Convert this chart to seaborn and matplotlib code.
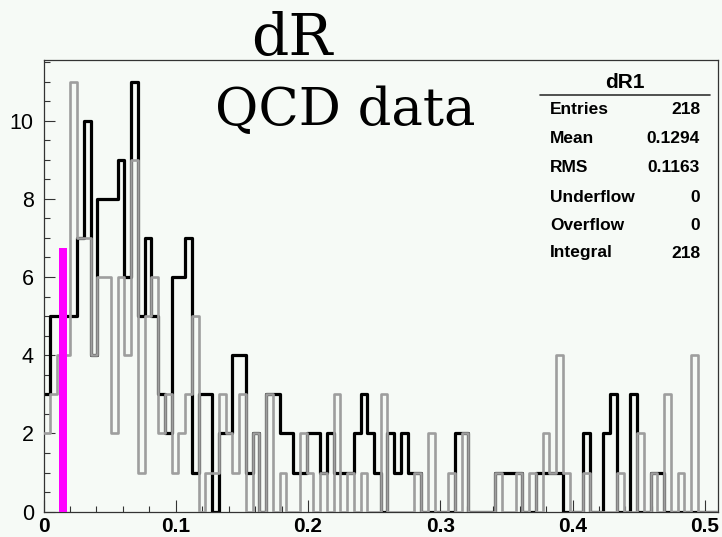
import matplotlib
matplotlib.use("Agg")
import matplotlib.pyplot as plt
from matplotlib.lines import Line2D
from matplotlib.ticker import FixedLocator, MultipleLocator
import numpy as np
import pandas as pd
import seaborn as sns

# Binning: 100 bins of width 0.0051 covering 0 - 0.51
bin_width = 0.0051
n_bins = 100

# Bin contents of the dR1 histogram (black outline)
dr1_counts = [3, 5, 5, 5, 5, 7, 10, 4, 8, 8,
              8, 9, 6, 11, 5, 7, 5, 3, 2, 6,
              6, 7, 1, 3, 3, 0, 2, 2, 4, 4,
              1, 2, 0, 3, 3, 2, 2, 1, 1, 2,
              2, 1, 2, 1, 1, 1, 2, 3, 2, 1,
              0, 2, 1, 2, 1, 1, 0, 0, 0, 0,
              0, 2, 2, 0, 0, 0, 0, 1, 1, 1,
              1, 0, 0, 1, 1, 1, 1, 0, 0, 0,
              2, 0, 0, 2, 3, 0, 0, 3, 0, 0,
              1, 1, 0, 0, 0, 0, 0, 0, 0, 0]

# Bin contents of the QCD data histogram (grey outline)
qcd_counts = [2, 3, 4, 4, 11, 7, 7, 4, 6, 6,
              2, 6, 4, 9, 1, 5, 6, 2, 3, 1,
              2, 3, 5, 0, 1, 1, 3, 2, 1, 3,
              0, 2, 0, 3, 0, 1, 0, 0, 2, 1,
              0, 1, 0, 3, 0, 1, 0, 1, 0, 0,
              3, 0, 0, 0, 0, 1, 0, 2, 0, 0,
              1, 0, 2, 0, 0, 0, 0, 1, 0, 0,
              1, 0, 1, 0, 2, 1, 4, 1, 0, 0,
              1, 0, 0, 0, 0, 1, 0, 0, 2, 0,
              1, 0, 3, 0, 1, 0, 4, 0, 0, 0]

# Cut marker
cut_position = 0.0147
cut_height = 6.75
cut_width = 0.0056

x_ticks = [0, 0.1, 0.2, 0.3, 0.4, 0.5]
x_tick_labels = ["0", "0.1", "0.2", "0.3", "0.4", "0.5"]
y_ticks = [0, 2, 4, 6, 8, 10]
y_tick_labels = ["0", "2", "4", "6", "8", "10"]

stats_title = "dR1"
stats_labels = ["Entries", "Mean", "RMS", "Underflow", "Overflow", "Integral"]
stats_mean = "0.1294"
stats_rms = "0.1163"

title_text = "dR"
sample_text = "QCD data"

W, H = 722, 537
BG = "#f6faf6"

sns.set_style("ticks")
plt.rcParams["font.family"] = ["Liberation Sans", "DejaVu Sans"]
plt.rcParams["text.color"] = "black"
plt.rcParams["xtick.labelcolor"] = "black"
plt.rcParams["ytick.labelcolor"] = "black"

x_max = n_bins * bin_width
centers = (np.arange(n_bins) + 0.5) * bin_width
hist_df = pd.DataFrame({
    "dR": np.concatenate([centers, centers]),
    "count": dr1_counts + qcd_counts,
    "sample": ["dR1"] * n_bins + ["QCD"] * n_bins,
})

fig = plt.figure(figsize=(W / 100, H / 100), dpi=100)
fig.patch.set_facecolor(BG)


def fx(px):
    return px / W


def fy(py):
    return 1 - py / H


ax = fig.add_axes([fx(43.5), fy(511.7), fx(718) - fx(43.5), fy(60) - fy(511.7)])
ax.set_facecolor(BG)

sns.histplot(data=hist_df[hist_df["sample"] == "dR1"], x="dR", weights="count",
             bins=n_bins, binrange=(0, x_max), element="step", fill=False,
             color="black", linewidth=2.3, ax=ax, zorder=2)
sns.histplot(data=hist_df[hist_df["sample"] == "QCD"], x="dR", weights="count",
             bins=n_bins, binrange=(0, x_max), element="step", fill=False,
             color="#9e9e9e", linewidth=1.9, ax=ax, zorder=3)

ax.bar([cut_position], [cut_height], width=cut_width, color="#ff00ff",
       linewidth=0, zorder=4)

ax.set_xlim(0, x_max)
ax.set_ylim(0, max(max(dr1_counts), max(qcd_counts)) * 1.05)
ax.set_xlabel("")
ax.set_ylabel("")

ax.xaxis.set_major_locator(FixedLocator(x_ticks))
ax.set_xticklabels(x_tick_labels)
ax.xaxis.set_minor_locator(MultipleLocator(0.02))
ax.yaxis.set_major_locator(FixedLocator(y_ticks))
ax.set_yticklabels(y_tick_labels)
ax.yaxis.set_minor_locator(MultipleLocator(0.5))

ax.tick_params(axis="both", which="both", direction="in", color="#333333",
               labelcolor="black", top=False, right=False)
ax.tick_params(axis="x", which="major", length=9, width=0.8, pad=4)
ax.tick_params(axis="x", which="minor", length=4.5, width=0.8)
ax.tick_params(axis="y", which="major", length=8, width=0.8, pad=7)
ax.tick_params(axis="y", which="minor", length=4.6, width=0.8)
for lab in ax.get_xticklabels():
    lab.set_fontsize(15)
    lab.set_fontweight("bold")
for lab in ax.get_yticklabels():
    lab.set_fontsize(15.5)
    lab.set_fontweight("normal")
for sp in ax.spines.values():
    sp.set_visible(True)
    sp.set_color("#333333")
    sp.set_linewidth(0.9)

# Titles
fig.text(fx(292), fy(55), title_text, family="DejaVu Serif", fontsize=42,
         ha="center", va="baseline", color="black")
fig.text(fx(215), fy(125), sample_text, family="DejaVu Serif", fontsize=38,
         ha="left", va="baseline", color="black")

# Statistics box
entries = int(sum(dr1_counts))
stats_values = [str(entries), stats_mean, stats_rms, "0", "0", str(entries)]
fig.text(fx(625), fy(82), stats_title, fontsize=15, fontweight="bold",
         ha="center", va="center", color="black")
fig.add_artist(Line2D([fx(540), fx(710)], [fy(95), fy(95)], color="#333333",
                      linewidth=1.2))
row_y = [110, 138, 167, 197, 226, 253]
for label, value, py in zip(stats_labels, stats_values, row_y):
    fig.text(fx(550), fy(py), label, fontsize=12.5, fontweight="bold",
             ha="left", va="center", color="black")
    fig.text(fx(700), fy(py), value, fontsize=12.5, fontweight="bold",
             ha="right", va="center", color="black")

fig.savefig("out.png", dpi=100, facecolor=BG)
